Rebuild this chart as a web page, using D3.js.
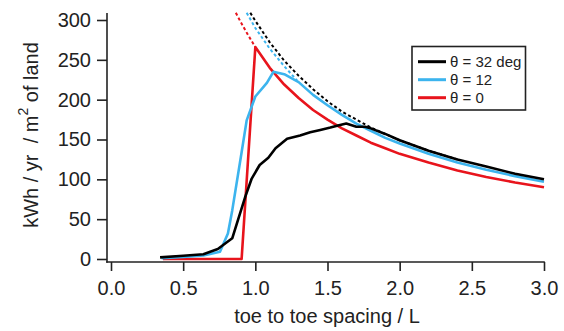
<!DOCTYPE html>
<html><head><meta charset="utf-8">
<script src="https://cdn.jsdelivr.net/npm/d3@7"></script>
<style>
body{margin:0;background:#fff;}
svg text{font-family:"Liberation Sans",Arial,sans-serif;fill:#222;white-space:pre;}
</style></head><body>
<svg id="c" width="564" height="331"></svg>
<script>
// ---- data ----
const xTicks = [0.0,0.5,1.0,1.5,2.0,2.5,3.0];
const yTicks = [0,50,100,150,200,250,300];
const legendLabels = ["θ = 32 deg","θ = 12","θ = 0"];
const colors = ["#000000","#3cb4ee","#e8141c"];

// θ = 32 deg (solid)
const blackX = [0.34,0.5,0.64,0.74,0.84,0.88,0.93,0.975,1.03,1.09,1.14,1.22,1.31,1.38,1.45,1.52,1.58,1.63,1.70,1.76,1.8,1.9,2.0,2.2,2.4,2.6,2.8,3.0];
const blackY = [2,4,6,12.5,26,49,78,101,118,127,139,151,155,159,162,165,168,170,166,166,164,157,149,136,125,116,107,100];
// θ = 32 deg upper bound (dashed)
const blackDashX = [0.965,1.0,1.1,1.2,1.3,1.4,1.5,1.6,1.7,1.8,1.9,2.0,2.2,2.4];
const blackDashY = [309,299,272,249,230,213,198,185,175,165,157,149,136,125];

// θ = 12 (solid)
const blueX = [0.35,0.5,0.64,0.755,0.81,0.84,0.905,0.94,1.0,1.08,1.125,1.2,1.3,1.4,1.5,1.6,1.7,1.8,1.9,2.0,2.2,2.4,2.6,2.8,3.0];
const blueY = [1,2.5,4.4,9,32,61,134,174,204,221,235,232,222,206,193,181,170,161,152,145,132,121,112,104,97];
// θ = 12 upper bound (dashed)
const blueDashX = [0.94,1.0,1.1,1.2,1.29];
const blueDashY = [309,290,264,242,224];

// θ = 0 (solid)
const redX = [0.36,0.905,1.0,1.1,1.2,1.3,1.4,1.5,1.6,1.7,1.8,1.9,2.0,2.2,2.4,2.6,2.8,3.0];
const redY = [0,0,266,240,219,202,187,175,164,155,146,139,132,121,111,103,96,90];
// θ = 0 upper bound (dashed)
const redDashX = [0.865,0.9,0.95,1.0];
const redDashY = [309,297,281,266];

// ---- drawing ----
const svg = d3.select("#c");
const x = d3.scaleLinear().domain([0,3]).range([111,544]);
const y = d3.scaleLinear().domain([0,300]).range([259,20]);

svg.append("defs").append("clipPath").attr("id","clip")
  .append("rect").attr("x",107).attr("y",12).attr("width",445).attr("height",250);

const xAxis = svg.append("g").attr("transform","translate(0,262)")
  .call(d3.axisBottom(x).tickValues(xTicks).tickFormat(d3.format(".1f")).tickSize(9).tickPadding(10));
const yAxis = svg.append("g").attr("transform","translate(107,0)")
  .call(d3.axisLeft(y).tickValues(yTicks).tickFormat(d3.format("d")).tickSize(10).tickPadding(6));
[xAxis,yAxis].forEach(a=>{
  a.select(".domain").remove();
  a.selectAll(".tick line").attr("stroke","#222").attr("stroke-width",1.6);
  a.selectAll(".tick text").attr("font-size",20).attr("fill","#222")
   .style("font-family",'"Liberation Sans",Arial,sans-serif');
});
svg.append("line").attr("x1",107).attr("x2",107).attr("y1",13).attr("y2",262.8)
  .attr("stroke","#222").attr("stroke-width",1.6);
svg.append("line").attr("x1",106.2).attr("x2",544.8).attr("y1",262).attr("y2",262)
  .attr("stroke","#222").attr("stroke-width",1.6);

// axis titles
svg.append("text").attr("x",327).attr("y",323).attr("text-anchor","middle")
  .attr("font-size",20).text("toe to toe spacing / L");
const yt = svg.append("text").attr("transform","translate(38,135) rotate(-90)")
  .attr("text-anchor","middle").attr("font-size",20);
yt.append("tspan").text("kWh / yr  / m");
yt.append("tspan").attr("font-size",14).attr("dy","-0.75em").text("2");
yt.append("tspan").attr("dy","0.5em").text(" of land");

const plot = svg.append("g").attr("clip-path","url(#clip)");
const line = d3.line().x(d=>x(d[0])).y(d=>y(d[1]));
const zip = (a,b)=>a.map((v,i)=>[v,b[i]]);

const dashed = [[blackDashX,blackDashY,colors[0]],[blueDashX,blueDashY,colors[1]],[redDashX,redDashY,colors[2]]];
dashed.forEach(([xs,ys,c])=>{
  plot.append("path").datum(zip(xs,ys)).attr("d",line).attr("fill","none")
    .attr("stroke",c).attr("stroke-width",2).attr("stroke-dasharray","3,2.5");
});
const solid = [[redX,redY,colors[2]],[blueX,blueY,colors[1]],[blackX,blackY,colors[0]]];
solid.forEach(([xs,ys,c])=>{
  plot.append("path").datum(zip(xs,ys)).attr("d",line).attr("fill","none")
    .attr("stroke",c).attr("stroke-width",2.6).attr("stroke-linejoin","round");
});

// legend
const lg = svg.append("g");
lg.append("rect").attr("x",412).attr("y",46.5).attr("width",113.5).attr("height",63.5)
  .attr("fill","#fff").attr("stroke","#222").attr("stroke-width",1.6);
legendLabels.forEach((t,i)=>{
  const yy = 61.7 + i*18;
  lg.append("line").attr("x1",418).attr("x2",446).attr("y1",yy).attr("y2",yy)
    .attr("stroke",colors[i]).attr("stroke-width",3);
  lg.append("text").attr("x",450).attr("y",yy+5.3).attr("font-size",15).text(t);
});
</script>
</body></html>
